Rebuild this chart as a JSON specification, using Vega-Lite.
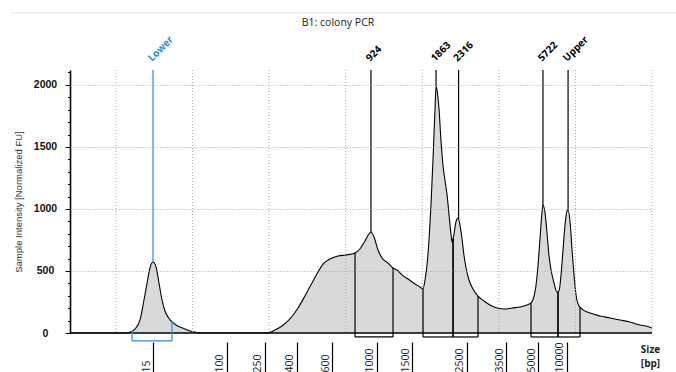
{
  "$schema": "https://vega.github.io/schema/vega-lite/v6.json",
  "width": 582,
  "height": 263,
  "autosize": {"type": "none"},
  "padding": {"left": 70, "top": 70, "right": 24, "bottom": 39},
  "background": "white",
  "config": {"view": {"stroke": null}},
  "datasets": {
    "curve": [
      {"t": 17.0, "fu": 0}, {"t": 20.59, "fu": 0}, {"t": 20.92, "fu": 8}, {"t": 21.24, "fu": 32}, {"t": 21.57, "fu": 105}, {"t": 21.83, "fu": 266}, {"t": 22.03, "fu": 403}, {"t": 22.22, "fu": 524}, {"t": 22.42, "fu": 572}, {"t": 22.62, "fu": 532}, {"t": 22.81, "fu": 403}, {"t": 23.01, "fu": 266}, {"t": 23.2, "fu": 177}, {"t": 23.4, "fu": 129}, {"t": 23.66, "fu": 89}, {"t": 23.92, "fu": 64}, {"t": 24.18, "fu": 48}, {"t": 24.51, "fu": 32}, {"t": 24.83, "fu": 16}, {"t": 25.16, "fu": 8}, {"t": 25.49, "fu": 0},
      {"t": 29.93, "fu": 0}, {"t": 30.38, "fu": 24}, {"t": 30.84, "fu": 56}, {"t": 31.36, "fu": 113}, {"t": 31.89, "fu": 202}, {"t": 32.34, "fu": 298}, {"t": 32.8, "fu": 403}, {"t": 33.19, "fu": 492}, {"t": 33.58, "fu": 564}, {"t": 33.98, "fu": 596}, {"t": 34.5, "fu": 621}, {"t": 35.02, "fu": 629}, {"t": 35.61, "fu": 645}, {"t": 35.93, "fu": 677}, {"t": 36.26, "fu": 742}, {"t": 36.52, "fu": 798}, {"t": 36.65, "fu": 814}, {"t": 36.85, "fu": 774}, {"t": 37.11, "fu": 669}, {"t": 37.37, "fu": 605}, {"t": 37.76, "fu": 564}, {"t": 38.09, "fu": 524}, {"t": 38.35, "fu": 508}, {"t": 38.68, "fu": 468}, {"t": 39.07, "fu": 435}, {"t": 39.53, "fu": 395}, {"t": 39.85, "fu": 371}, {"t": 40.05, "fu": 355},
      {"t": 40.18, "fu": 427}, {"t": 40.31, "fu": 548}, {"t": 40.44, "fu": 750}, {"t": 40.57, "fu": 1032}, {"t": 40.7, "fu": 1394}, {"t": 40.83, "fu": 1798}, {"t": 40.9, "fu": 1991}, {"t": 40.96, "fu": 1959}, {"t": 41.09, "fu": 1814}, {"t": 41.22, "fu": 1556}, {"t": 41.35, "fu": 1354}, {"t": 41.48, "fu": 1233}, {"t": 41.62, "fu": 1112}, {"t": 41.75, "fu": 951}, {"t": 41.88, "fu": 790}, {"t": 41.94, "fu": 734}, {"t": 42.07, "fu": 798}, {"t": 42.2, "fu": 895}, {"t": 42.33, "fu": 927}, {"t": 42.46, "fu": 871}, {"t": 42.59, "fu": 766}, {"t": 42.72, "fu": 629}, {"t": 42.86, "fu": 524}, {"t": 43.05, "fu": 427}, {"t": 43.31, "fu": 355}, {"t": 43.64, "fu": 298}, {"t": 44.03, "fu": 258}, {"t": 44.42, "fu": 226}, {"t": 44.88, "fu": 202}, {"t": 45.4, "fu": 193}, {"t": 45.86, "fu": 202}, {"t": 46.38, "fu": 210}, {"t": 46.84, "fu": 226}, {"t": 47.1, "fu": 242},
      {"t": 47.3, "fu": 298}, {"t": 47.43, "fu": 387}, {"t": 47.56, "fu": 548}, {"t": 47.69, "fu": 766}, {"t": 47.82, "fu": 975}, {"t": 47.88, "fu": 1032}, {"t": 48.01, "fu": 975}, {"t": 48.14, "fu": 814}, {"t": 48.27, "fu": 629}, {"t": 48.41, "fu": 508}, {"t": 48.6, "fu": 403}, {"t": 48.8, "fu": 330}, {"t": 48.93, "fu": 339}, {"t": 49.06, "fu": 468}, {"t": 49.19, "fu": 669}, {"t": 49.32, "fu": 871}, {"t": 49.45, "fu": 983}, {"t": 49.52, "fu": 991}, {"t": 49.65, "fu": 895}, {"t": 49.78, "fu": 669}, {"t": 49.91, "fu": 468}, {"t": 50.04, "fu": 306}, {"t": 50.17, "fu": 234}, {"t": 50.43, "fu": 193}, {"t": 50.95, "fu": 161}, {"t": 51.6, "fu": 137}, {"t": 52.26, "fu": 121}, {"t": 52.91, "fu": 105}, {"t": 53.56, "fu": 89}, {"t": 54.22, "fu": 64}, {"t": 54.61, "fu": 56}, {"t": 55.0, "fu": 40}
    ],
    "markers": [
      {"label": "Lower", "t": 22.42, "fu": 572},
      {"label": "924", "t": 36.65, "fu": 814},
      {"label": "1863", "t": 40.9, "fu": 1991},
      {"label": "2316", "t": 42.37, "fu": 915},
      {"label": "5722", "t": 47.88, "fu": 1032},
      {"label": "Upper", "t": 49.52, "fu": 991}
    ],
    "regions": [
      {"peak": "Lower", "start": 21.05, "end": 23.66, "fu_start": 16, "fu_end": 89},
      {"peak": "924", "start": 35.61, "end": 38.09, "fu_start": 645, "fu_end": 524},
      {"peak": "1863", "start": 40.05, "end": 42.01, "fu_start": 355, "fu_end": 760},
      {"peak": "2316", "start": 42.01, "end": 43.64, "fu_start": 760, "fu_end": 298},
      {"peak": "5722", "start": 47.1, "end": 48.86, "fu_start": 242, "fu_end": 330},
      {"peak": "Upper", "start": 48.86, "end": 50.3, "fu_start": 330, "fu_end": 201}
    ],
    "grid": [{"t": 20}, {"t": 25}, {"t": 30}, {"t": 35}, {"t": 40}, {"t": 45}, {"t": 50}, {"t": 55}]
  },
  "layer": [
    {
      "data": {"name": "curve"},
      "mark": {"type": "area", "color": "#d9d9d9", "opacity": 1, "interpolate": "monotone", "line": {"color": "#000", "strokeWidth": 1.1}},
      "encoding": {
        "x": {
          "field": "t", "type": "quantitative",
          "scale": {"domain": [17, 55], "nice": false, "zero": false},
          "axis": {
            "values": [22.42, 27.25, 29.73, 31.82, 34.11, 37.04, 39.33, 42.92, 45.47, 47.56, 49.45],
            "tickCount": 30,
            "labelExpr": "['15','100','250','400','600','1000','1500','2500','3500','5000','10000'][indexof([22.42,27.25,29.73,31.82,34.11,37.04,39.33,42.92,45.47,47.56,49.45], datum.value)]",
            "grid": false, "domain": false, "offset": 9, "tickSize": 30, "tickColor": "#000", "tickWidth": 1.2,
            "labelAngle": -90, "labelAlign": "left", "labelBaseline": "middle", "labelPadding": 0, "labelOffset": -7,
            "labelFont": "Open Sans", "labelFontSize": 10.5, "labelColor": "#222", "labelOverlap": false, "labelFlush": false, "labelBound": false,
            "title": ["Size", "[bp]"], "titleX": 580, "titleY": 10, "titleAlign": "center", "titleBaseline": "alphabetic", "titleAngle": 0,
            "titleFont": "Open Sans", "titleFontSize": 10, "titleFontWeight": "bold", "titleColor": "#222", "titleLineHeight": 14
          }
        },
        "y": {
          "field": "fu", "type": "quantitative",
          "scale": {"domain": [0, 2120], "nice": false},
          "axis": {
            "values": [0, 100, 200, 300, 400, 500, 600, 700, 800, 900, 1000, 1100, 1200, 1300, 1400, 1500, 1600, 1700, 1800, 1900, 2000, 2100],
            "tickCount": 40,
            "format": "d",
            "labelExpr": "datum.value % 500 === 0 ? datum.label : ''",
            "grid": true, "gridColor": "#a8a8a8", "gridDash": [1, 2],
            "gridOpacity": {"condition": {"test": "datum.value % 500 === 0 && datum.value > 0", "value": 1}, "value": 0},
            "tickSize": {"condition": {"test": "datum.value % 500 === 0", "value": 5}, "value": 2.5},
            "tickColor": "#000", "tickWidth": 1, "domainColor": "#000", "domainWidth": 1.6,
            "labelAlign": "center", "labelBaseline": "middle", "labelPadding": 20,
            "labelFont": "Liberation Sans", "labelFontSize": 10.5, "labelFontWeight": "bold", "labelColor": "#111", "labelOverlap": false, "labelFlush": false,
            "title": "Sample Intensity [Normalized FU]", "titleFont": "Liberation Sans", "titleFontSize": 9.5, "titleFontWeight": "normal", "titleColor": "#333", "titlePadding": 10,
            "zindex": 1
          }
        }
      }
    },
    {
      "data": {"name": "grid"},
      "mark": {"type": "rule", "color": "#a8a8a8", "strokeDash": [1, 2], "strokeWidth": 1},
      "encoding": {"x": {"field": "t", "type": "quantitative"}}
    },
    {
      "data": {"values": [{}]},
      "mark": {"type": "rule", "color": "#000", "strokeWidth": 1.6},
      "encoding": {"y": {"datum": 0}}
    },
    {
      "data": {"values": [{}]},
      "mark": {"type": "rule", "color": "#e4e4e4", "strokeWidth": 1},
      "encoding": {"x": {"datum": 13.1}, "x2": {"datum": 56.6}, "y": {"datum": 2580}}
    },
    {
      "data": {"values": [{"title": "B1: colony PCR"}]},
      "mark": {"type": "text", "align": "center", "baseline": "alphabetic", "font": "Open Sans", "fontSize": 10.5, "color": "#222"},
      "encoding": {"x": {"datum": 34.5}, "y": {"datum": 2475}, "text": {"field": "title"}}
    },
    {
      "data": {"name": "markers"},
      "mark": {"type": "rule", "strokeWidth": 1.2},
      "encoding": {
        "x": {"field": "t", "type": "quantitative"},
        "y": {"field": "fu", "type": "quantitative"},
        "y2": {"datum": 2120},
        "color": {"condition": {"test": "datum.label === 'Lower'", "value": "#2a8ce6"}, "value": "#000"}
      }
    },
    {
      "data": {"name": "markers"},
      "mark": {"type": "text", "angle": 315, "align": "left", "baseline": "alphabetic", "dx": 5, "dy": -6.4, "font": "Open Sans", "fontSize": 10, "fontWeight": "bold"},
      "encoding": {
        "x": {"field": "t", "type": "quantitative"},
        "y": {"datum": 2120},
        "text": {"field": "label"},
        "color": {"condition": {"test": "datum.label === 'Lower'", "value": "#2a8ce6"}, "value": "#000"}
      }
    },
    {
      "data": {"name": "regions"},
      "transform": [{"filter": "datum.peak === 'Lower'"}],
      "mark": {"type": "rule", "color": "#2a8ce6", "strokeWidth": 1.2},
      "encoding": {"x": {"field": "start", "type": "quantitative"}, "y": {"field": "fu_start", "type": "quantitative"}, "y2": {"datum": -64}}
    },
    {
      "data": {"name": "regions"},
      "transform": [{"filter": "datum.peak === 'Lower'"}],
      "mark": {"type": "rule", "color": "#2a8ce6", "strokeWidth": 1.2},
      "encoding": {"x": {"field": "end", "type": "quantitative"}, "y": {"field": "fu_end", "type": "quantitative"}, "y2": {"datum": -64}}
    },
    {
      "data": {"name": "regions"},
      "transform": [{"filter": "datum.peak === 'Lower'"}],
      "mark": {"type": "rule", "color": "#2a8ce6", "strokeWidth": 1.2},
      "encoding": {"x": {"field": "start", "type": "quantitative"}, "x2": {"field": "end"}, "y": {"datum": -64}}
    },
    {
      "data": {"name": "regions"},
      "transform": [{"filter": "datum.peak !== 'Lower'"}],
      "mark": {"type": "rule", "color": "#000", "strokeWidth": 1.2},
      "encoding": {"x": {"field": "start", "type": "quantitative"}, "y": {"field": "fu_start", "type": "quantitative"}, "y2": {"datum": -32}}
    },
    {
      "data": {"name": "regions"},
      "transform": [{"filter": "datum.peak !== 'Lower'"}],
      "mark": {"type": "rule", "color": "#000", "strokeWidth": 1.2},
      "encoding": {"x": {"field": "end", "type": "quantitative"}, "y": {"field": "fu_end", "type": "quantitative"}, "y2": {"datum": -32}}
    },
    {
      "data": {"name": "regions"},
      "transform": [{"filter": "datum.peak !== 'Lower'"}],
      "mark": {"type": "rule", "color": "#000", "strokeWidth": 1.2},
      "encoding": {"x": {"field": "start", "type": "quantitative"}, "x2": {"field": "end"}, "y": {"datum": -32}}
    }
  ]
}
